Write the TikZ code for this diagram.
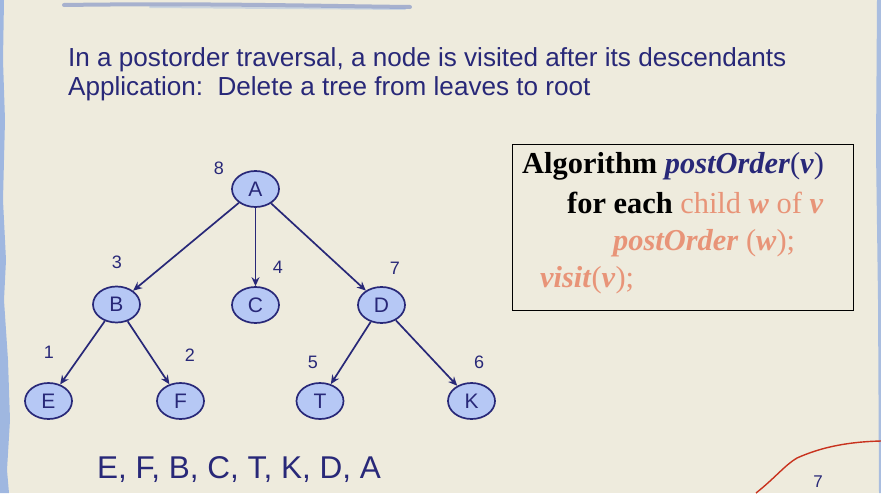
\documentclass[tikz,border=0pt]{standalone}
\usepackage{fontspec}
\setmainfont{Liberation Serif}
\newfontfamily\hsans{Liberation Sans}
\usetikzlibrary{shapes.geometric,arrows.meta}
\definecolor{paper}{RGB}{238,235,221}
\definecolor{navy}{RGB}{40,40,120}
\definecolor{nodefill}{RGB}{182,200,245}
\definecolor{salmon}{RGB}{232,148,120}
\definecolor{edgeblue}{RGB}{140,170,225}
\definecolor{redline}{RGB}{200,50,30}
\tikzset{
  treenode/.style={ellipse,draw=navy,fill=nodefill,line width=1.7pt,
    minimum width=47pt,minimum height=36pt,inner sep=0pt,
    font=\hsans\fontsize{21}{21}\selectfont,text=navy},
  ordlabel/.style={font=\hsans\fontsize{18}{18}\selectfont,text=navy,inner sep=0pt},
  treeedge/.style={draw=navy,line width=1.7pt,-{Stealth[length=9pt,width=8pt]}},
  headline/.style={font=\hsans\fontsize{26.1}{27}\selectfont,text=navy,anchor=base west,inner sep=0pt},
  algline/.style={font=\fontsize{30.4}{31}\selectfont,anchor=base west,inner sep=0pt}
}
\begin{document}
\begin{tikzpicture}[x=1pt,y=-1pt]
\useasboundingbox (0,0) rectangle (881,493);
\fill[paper] (0,0) rectangle (881,493);
% ragged blue edges
\fill[edgeblue,opacity=0.8] (0,0) -- (4,0) -- (3,60) -- (5,120) -- (3,200) -- (6,260) -- (4,300) -- (8,360) -- (10,420) -- (7,470) -- (9,493) -- (0,493) -- cycle;
\fill[edgeblue,opacity=0.7] (877,0) -- (881,0) -- (881,493) -- (879,493) -- (878,300) -- (876,150) -- cycle;
% brush stroke at top
\draw[edgeblue!70!navy,line width=4pt,opacity=0.55,line cap=round] (64,5) .. controls (200,3) and (320,6) .. (410,7);
\draw[edgeblue,line width=2pt,opacity=0.35,line cap=round] (150,7) -- (405,9);
% headlines
\node[headline] (h1) at (68,66) {In a postorder traversal, a node is visited after its descendants};
\node[headline] (h2) at (68,95) {Application:\ \ Delete a tree from leaves to root};
% tree
\node[treenode] (A) at (255.5,189) {A};
\node[treenode] (B) at (116.5,304.5) {B};
\node[treenode] (C) at (255.5,305) {C};
\node[treenode] (D) at (381.5,305) {D};
\node[treenode] (E) at (48.5,401) {E};
\node[treenode] (F) at (180.5,401) {F};
\node[treenode] (T) at (320,401) {T};
\node[treenode] (K) at (471.5,401) {K};
\draw[treeedge] (A) -- (B);
\draw[treeedge] (A) -- (C);
\draw[treeedge] (A) -- (D);
\draw[treeedge] (B) -- (E);
\draw[treeedge] (B) -- (F);
\draw[treeedge] (D) -- (T);
\draw[treeedge] (D) -- (K);
\node[ordlabel] (n8) at (219,168) {8};
\node[ordlabel] (n3) at (117,262) {3};
\node[ordlabel] (n4) at (278,267) {4};
\node[ordlabel] (n7) at (395,268) {7};
\node[ordlabel] (n1) at (49,352) {1};
\node[ordlabel] (n2) at (190,355) {2};
\node[ordlabel] (n5) at (313,362) {5};
\node[ordlabel] (n6) at (479,362) {6};
% result sequence
\node[font=\hsans\fontsize{31.5}{32}\selectfont,text=navy,anchor=base west,inner sep=0pt] (seq) at (97,478) {E, F, B, C, T, K, D, A};
% algorithm box
\node[draw=black,line width=0.8pt,minimum width=341pt,minimum height=166pt,anchor=north west,inner sep=0pt] (box) at (512,144) {};
\node[algline] (l1) at (522,173) {\textbf{Algorithm} {\color{navy}\textbf{\textit{postOrder}}(\textbf{\textit{v}})}};
\node[algline] (l2) at (567,213) {\textbf{for each} {\color{salmon}child \textbf{\textit{w}} of \textbf{\textit{v}}}};
\node[algline,text=salmon] (l3) at (613,250) {\textbf{\textit{postOrder}} (\textbf{\textit{w}});};
\node[algline,text=salmon] (l4) at (540,287) {\textbf{\textit{visit}}(\textbf{\textit{v}});};
% red pen stroke and page number
\draw[redline,line width=1.4pt] (756,493) .. controls (775,478) and (785,465) .. (797,458) .. controls (815,450) and (840,442) .. (881,441);
\node[font=\hsans\fontsize{17}{17}\selectfont,text=navy,inner sep=0pt] (pg) at (818,482) {7};
\end{tikzpicture}
\end{document}
